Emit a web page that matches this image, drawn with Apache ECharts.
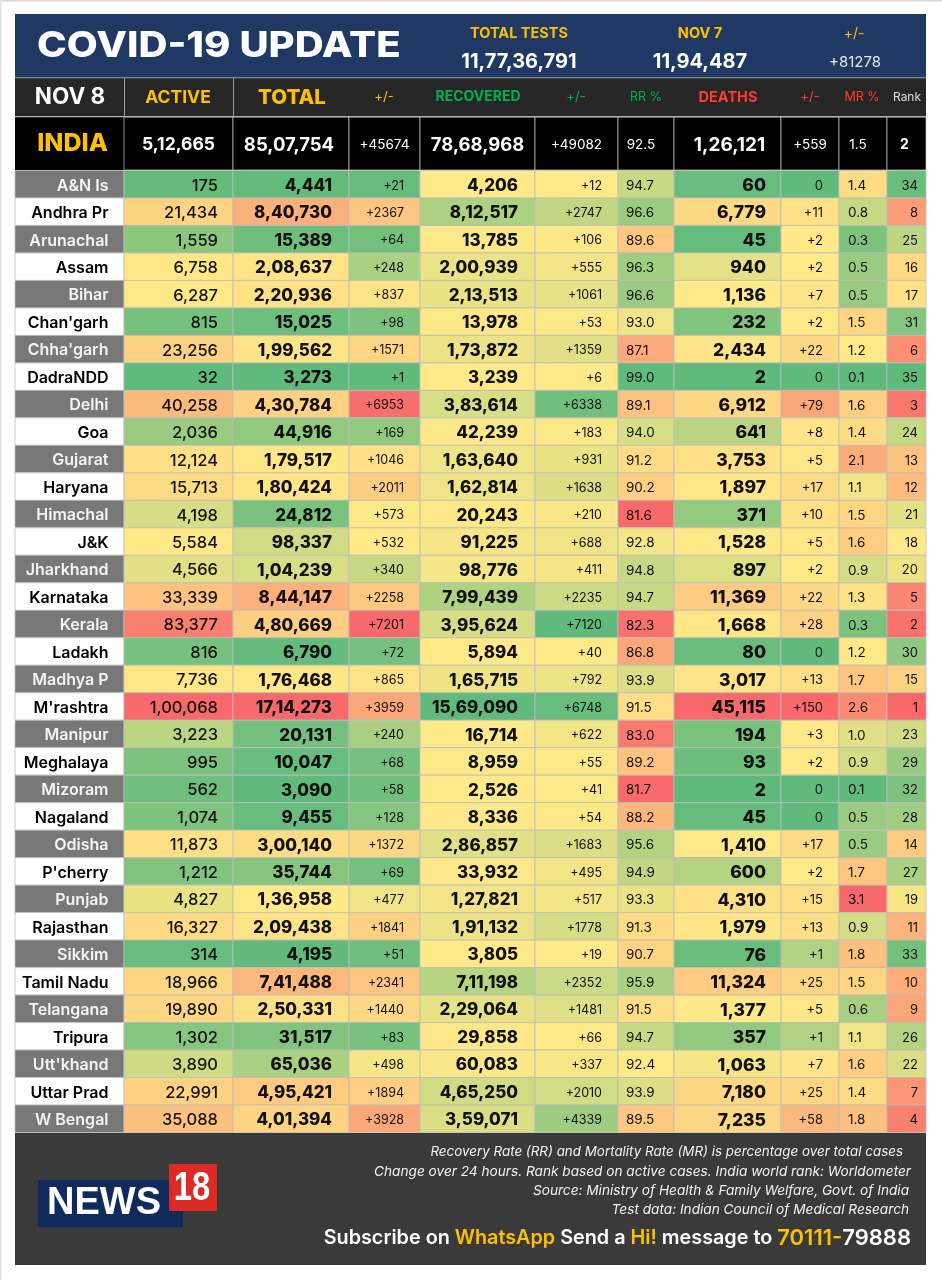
<![CDATA[<!DOCTYPE html>
<html><head><meta charset="utf-8">
<style>html,body{margin:0;padding:0;background:#fff}#c{width:942px;height:1280px}</style>
<script src="https://cdn.jsdelivr.net/npm/echarts@6/dist/echarts.min.js"></script>
</head><body><div id="c"></div>
<script>
const states=["A&N Is","Andhra Pr","Arunachal","Assam","Bihar","Chan'garh","Chha'garh","DadraNDD","Delhi","Goa","Gujarat","Haryana","Himachal","J&K","Jharkhand","Karnataka","Kerala","Ladakh","Madhya P","M'rashtra","Manipur","Meghalaya","Mizoram","Nagaland","Odisha","P'cherry","Punjab","Rajasthan","Sikkim","Tamil Nadu","Telangana","Tripura","Utt'khand","Uttar Prad","W Bengal"];
const active=[175,21434,1559,6758,6287,815,23256,32,40258,2036,12124,15713,4198,5584,4566,33339,83377,816,7736,100068,3223,995,562,1074,11873,1212,4827,16327,314,18966,19890,1302,3890,22991,35088];
const total=[4441,840730,15389,208637,220936,15025,199562,3273,430784,44916,179517,180424,24812,98337,104239,844147,480669,6790,176468,1714273,20131,10047,3090,9455,300140,35744,136958,209438,4195,741488,250331,31517,65036,495421,401394];
const totalDelta=[21,2367,64,248,837,98,1571,1,6953,169,1046,2011,573,532,340,2258,7201,72,865,3959,240,68,58,128,1372,69,477,1841,51,2341,1440,83,498,1894,3928];
const recovered=[4206,812517,13785,200939,213513,13978,173872,3239,383614,42239,163640,162814,20243,91225,98776,799439,395624,5894,165715,1569090,16714,8959,2526,8336,286857,33932,127821,191132,3805,711198,229064,29858,60083,465250,359071];
const recoveredDelta=[12,2747,106,555,1061,53,1359,6,6338,183,931,1638,210,688,411,2235,7120,40,792,6748,622,55,41,54,1683,495,517,1778,19,2352,1481,66,337,2010,4339];
const rr=[94.7,96.6,89.6,96.3,96.6,93.0,87.1,99.0,89.1,94.0,91.2,90.2,81.6,92.8,94.8,94.7,82.3,86.8,93.9,91.5,83.0,89.2,81.7,88.2,95.6,94.9,93.3,91.3,90.7,95.9,91.5,94.7,92.4,93.9,89.5];
const deaths=[60,6779,45,940,1136,232,2434,2,6912,641,3753,1897,371,1528,897,11369,1668,80,3017,45115,194,93,2,45,1410,600,4310,1979,76,11324,1377,357,1063,7180,7235];
const deathsDelta=[0,11,2,2,7,2,22,0,79,8,5,17,10,5,2,22,28,0,13,150,3,2,0,0,17,2,15,13,1,25,5,1,7,25,58];
const mr=[1.4,0.8,0.3,0.5,0.5,1.5,1.2,0.1,1.6,1.4,2.1,1.1,1.5,1.6,0.9,1.3,0.3,1.2,1.7,2.6,1.0,0.9,0.1,0.5,0.5,1.7,3.1,0.9,1.8,1.5,0.6,1.1,1.6,1.4,1.8];
const rank=[34,8,25,16,17,31,6,35,3,24,13,12,21,18,20,5,2,30,15,1,23,29,32,28,14,27,19,11,33,10,9,26,22,7,4];
const indiaRow=[512665,8507754,45674,7868968,49082,92.5,126121,559,1.5,2];
const headerLabels=["NOV 8","ACTIVE","TOTAL","+/-","RECOVERED","+/-","RR %","DEATHS","+/-","MR %","Rank"];

// layout
const W=911, LEFT=15;
const edges=[0,109,218,334,405,520,603,659,766,824,872,911];
const G=[96,186,124],Y=[255,233,136],R=[248,105,107];
const mix=(a,b,t)=>'rgb('+a.map((v,i)=>Math.round(v+(b[i]-v)*t)).join(',')+')';
const median=a=>{const s=[...a].sort((x,y)=>x-y);return s[(s.length-1)/2]};
function scale(vals,stops,useMid,midOverride){
  const lo=Math.min(...vals),hi=Math.max(...vals),m=midOverride!==undefined?midOverride:median(vals);
  return v=>{
    if(!useMid) return mix(stops[0],stops[2],(v-lo)/(hi-lo));
    return v<=m?mix(stops[0],stops[1],(v-lo)/((m-lo)||1)):mix(stops[1],stops[2],(v-m)/((hi-m)||1));
  };
}
const inr=n=>{const s=String(n);if(s.length<=3)return s;let h=s.slice(0,-3),o=s.slice(-3);return h.replace(/\B(?=(\d{2})+(?!\d))/g,',')+','+o;};
const plus=n=>n===0?'0':'+'+n;
const f1=n=>n.toFixed(1);
const F="Inter";
const TD=1.5;
const cols=[
 {v:active,fmt:inr,c:scale(active,[G,Y,R],1),font:`500 16.5px ${F}`,align:'right',pad:15},
 {v:total,fmt:inr,c:scale(total,[G,Y,R],1),font:`800 17px ${F}`,align:'right',pad:17},
 {v:totalDelta,fmt:plus,c:scale(totalDelta,[G,Y,R],1),font:`400 12.5px ${F}`,align:'right',pad:16},
 {v:recovered,fmt:inr,c:scale(recovered,[Y,Y,G],0),font:`800 17px ${F}`,align:'right',pad:17},
 {v:recoveredDelta,fmt:plus,c:scale(recoveredDelta,[Y,Y,G],0),font:`400 12.5px ${F}`,align:'right',pad:16},
 {v:rr,fmt:f1,c:scale(rr,[R,Y,G],1),font:`400 13.5px ${F}`,align:'left',pad:8},
 {v:deaths,fmt:inr,c:scale(deaths,[G,Y,R],1),font:`800 17.5px ${F}`,align:'right',pad:15},
 {v:deathsDelta,fmt:plus,c:scale(deathsDelta,[G,Y,R],1,2),font:`400 13px ${F}`,align:'right',pad:16},
 {v:mr,fmt:f1,c:scale(mr,[G,Y,R],1),font:`400 13.5px ${F}`,align:'left',pad:9},
 {v:rank,fmt:String,c:scale(rank,[R,Y,G],1),font:`400 13px ${F}`,align:'right',pad:8},
];
const BORDER={stroke:'#bcbcbc',lineWidth:.8};
const series=[];
series.push({type:'custom',coordinateSystem:'cartesian2d',xAxisIndex:0,yAxisIndex:0,silent:true,
 data:states.map((s,i)=>[edges[0],i]),encode:{x:0,y:1},
 renderItem(p,api){
  const i=api.value(1),c=api.coord([edges[0],i]),c2=api.coord([edges[1],i]),h=api.size([0,1])[1];
  const odd=i%2===0;
  return {type:'group',children:[
   {type:'rect',shape:{x:c[0],y:c[1]-h/2,width:c2[0]-c[0],height:h},style:Object.assign({fill:odd?'#787878':'#fff'},BORDER)},
   {type:'text',style:{text:states[i],x:c2[0]-15.5,y:c[1]+TD,align:'right',verticalAlign:'middle',font:`600 16px ${F}`,fill:odd?'#f4f4f4':'#000'}}
  ]};
 }});
cols.forEach((col,ci)=>{
 const a=edges[ci+1],b=edges[ci+2];
 series.push({type:'custom',coordinateSystem:'cartesian2d',xAxisIndex:0,yAxisIndex:0,silent:true,
  data:col.v.map((v,i)=>[a,i,v]),encode:{x:0,y:1},
  renderItem(p,api){
   const i=api.value(1),v=api.value(2),c=api.coord([a,i]),c2=api.coord([b,i]),h=api.size([0,1])[1];
   const tx=col.align==='right'?c2[0]-col.pad:c[0]+col.pad;
   return {type:'group',children:[
    {type:'rect',shape:{x:c[0],y:c[1]-h/2,width:c2[0]-c[0],height:h},style:Object.assign({fill:col.c(v)},BORDER)},
    {type:'text',style:{text:col.fmt(v),x:tx,y:c[1]+TD,align:col.align,verticalAlign:'middle',font:col.font,fill:'#111'}}
   ]};
  }});
});
const indiaCols=[
 {fmt:inr,font:`700 17.5px ${F}`},
 {fmt:inr,font:`700 18.5px ${F}`,dx:-2},
 {fmt:plus,font:`400 13.5px ${F}`},
 {fmt:inr,font:`700 18.5px ${F}`},
 {fmt:plus,font:`400 13.5px ${F}`},
 {fmt:f1,font:`400 13.5px ${F}`,dx:-5},
 {fmt:inr,font:`700 19px ${F}`,dx:2},
 {fmt:plus,font:`400 13.5px ${F}`},
 {fmt:f1,font:`400 13.5px ${F}`,dx:-5},
 {fmt:String,font:`700 14px ${F}`,dx:-2},
];
series.push({type:'custom',coordinateSystem:'cartesian2d',xAxisIndex:1,yAxisIndex:1,silent:true,
 data:indiaRow.map((v,i)=>[edges[i+1],0,v,i]),encode:{x:0,y:1},
 renderItem(p,api){
  const ci=api.value(3),v=api.value(2),c=api.coord([edges[ci+1],0]),c2=api.coord([edges[ci+2],0]),h=api.size([0,1])[1];
  const s=indiaCols[ci];
  return {type:'group',children:[
   {type:'rect',shape:{x:c[0],y:c[1]-h/2,width:c2[0]-c[0],height:h},style:{fill:'#000',stroke:'#c8c8c8',lineWidth:.7}},
   {type:'text',style:{text:s.fmt(v),x:(c[0]+c2[0])/2+(s.dx||0),y:c[1]+1.5,align:'center',verticalAlign:'middle',font:s.font,fill:'#fff'}}
  ]};
 }});

const T=(text,x,y,font,fill,align,extra)=>Object.assign({type:'text',silent:true,style:{text,x,y,font,fill,align:align||'center',verticalAlign:'middle'}},extra||{});
const sx=(k,x,y)=>({scaleX:k,originX:x,originY:y});
const rect=(x,y,w,h,fill,extra)=>({type:'rect',silent:true,shape:{x,y,width:w,height:h},style:Object.assign({fill},extra||{})});
const YEL='#ffc000',GRN='#00b050',RED='#ff3b30';
const under=[
 rect(0,0,942,1.5,'#d8d8de'),rect(0,0,1.5,1280,'#e2e2e6'),
 rect(15,14,911,63,'#1f3864'),
 rect(15,78,911,38.5,'#262626'),
 rect(15,117,911,53,'#000'),
 rect(15,1133,911,132,'#3a3a3a'),
];
const graphics=under.map(g=>Object.assign(g,{z:-5}));
const over=[
 T('COVID-19 UPDATE',37,46,`800 35.5px ${F}`,'#fff','left',sx(1.13,37,46)),
 T('TOTAL TESTS',519,34,`700 14.5px ${F}`,YEL),
 T('NOV 7',700,34,`700 14.5px ${F}`,YEL),
 T('+/-',854,34,`400 14px ${F}`,YEL),
 T('11,77,36,791',519,62,`700 20px ${F}`,'#fff'),
 T('11,94,487',700,62,`700 20px ${F}`,'#fff'),
 T('+81278',855,62,`400 15px ${F}`,'#e8e8e8'),
 T(headerLabels[0],70,97.5,`700 22.5px ${F}`,'#fff'),
 T(headerLabels[1],178,97.5,`700 17.5px ${F}`,YEL),
 T(headerLabels[2],292,97.5,`800 20.5px ${F}`,YEL),
 T(headerLabels[3],384,97,`400 13px ${F}`,YEL),
 T(headerLabels[4],478,97,`700 14px ${F}`,GRN),
 T(headerLabels[5],576,97,`400 13px ${F}`,GRN),
 T(headerLabels[6],646,97,`400 12.5px ${F}`,GRN),
 T(headerLabels[7],728,97.5,`700 14.5px ${F}`,RED),
 T(headerLabels[8],810,97,`400 13px ${F}`,RED),
 T(headerLabels[9],862,97,`400 12.5px ${F}`,RED),
 T(headerLabels[10],907,97,`400 12px ${F}`,'#ddd'),
 rect(124,78,.8,38.5,'#bbb'),rect(233,78,.8,38.5,'#bbb'),rect(15,77,911,1.2,'#8a8a8a'),rect(15,116.3,911,.9,'#bbb'),
 T('INDIA',72.5,143.5,`800 25px ${F}`,YEL),
 rect(38,1180,145,47,'#0f2a5c'),
 rect(169,1164,48,47,'#dc2a24'),
 T('NEWS',104,1204,`700 38px "Liberation Sans"`,'#fff'),
 T('18',192,1189,`700 41px "Liberation Sans"`,'#fff','center',sx(.8,192,1189)),
 T('Recovery Rate (RR) and Mortality Rate (MR) is percentage over total cases',903,1152,`italic 400 13.4px ${F}`,'#f2f2f2','right'),
 T('Change over 24 hours. Rank based on active cases. India world rank: Worldometer',911,1172,`italic 400 13.65px ${F}`,'#f2f2f2','right'),
 T('Source: Ministry of Health & Family Welfare, Govt. of India',909,1191,`italic 400 13.65px ${F}`,'#f2f2f2','right'),
 T('Test data: Indian Council of Medical Research',909,1210,`italic 400 13.65px ${F}`,'#f2f2f2','right'),
 {type:'text',silent:true,style:{text:'{w|Subscribe on }{y|WhatsApp}{w| Send a }{y|Hi!}{w| message to }{Y|70111-}{W|79888}',x:911,y:1238,align:'right',verticalAlign:'middle',
   rich:{w:{font:`600 19.8px ${F}`,fill:'#fff'},y:{font:`600 19.8px ${F}`,fill:YEL},Y:{font:`600 22px ${F}`,fill:YEL},W:{font:`600 22px ${F}`,fill:'#fff'}}}}
];
const chart=echarts.init(document.getElementById('c'),null,{renderer:'canvas',width:942,height:1280});
chart.setOption({
 animation:false,backgroundColor:'#fff',
 grid:[{left:LEFT,top:170.5,width:W,height:962},{left:LEFT,top:117,width:W,height:53}],
 xAxis:[{type:'value',gridIndex:0,min:0,max:W,show:false},{type:'value',gridIndex:1,min:0,max:W,show:false}],
 yAxis:[{type:'category',gridIndex:0,data:states,inverse:true,show:false},{type:'category',gridIndex:1,data:['INDIA'],show:false}],
 series,
 graphic:{elements:graphics.concat(over.map(g=>Object.assign(g,{z:50})))}
});
</script></body></html>]]>
